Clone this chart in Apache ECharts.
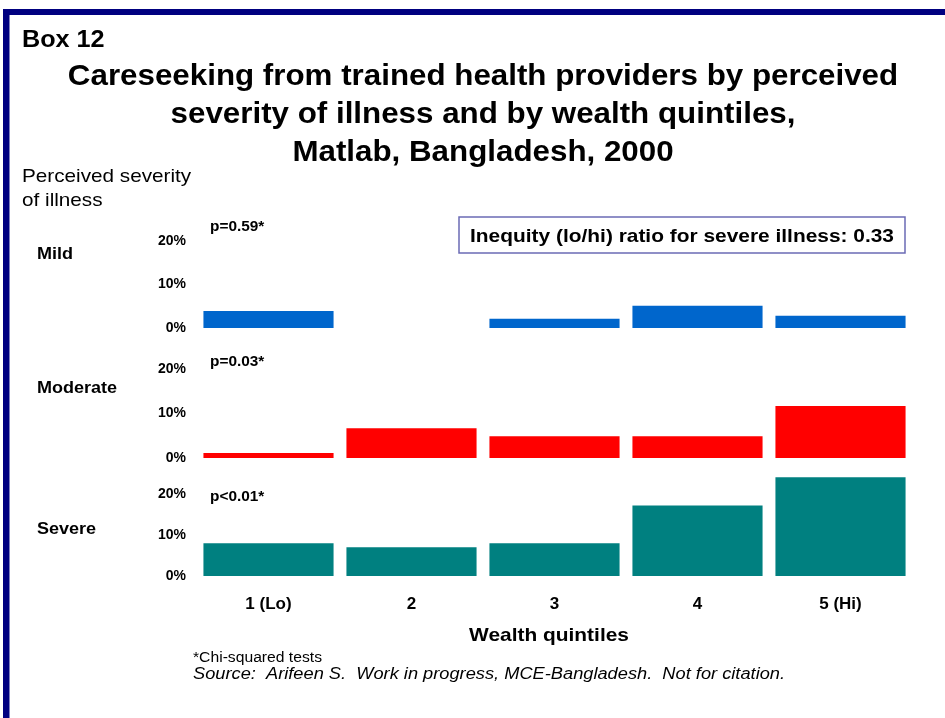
<!DOCTYPE html>
<html>
<head>
<meta charset="utf-8">
<script src="https://cdn.jsdelivr.net/npm/echarts@6/dist/echarts.min.js"></script>
<style>html,body{margin:0;padding:0;background:#fff;}#c{width:945px;height:718px;}</style>
</head>
<body>
<div id="c"></div>
<script>
const categories = ['1 (Lo)', '2', '3', '4', '5 (Hi)'];
const mild = [3.9, 0, 2.1, 5.1, 2.8];
const moderate = [1.1, 6.7, 4.9, 4.9, 11.7];
const severe = [8.0, 7.0, 8.0, 17.2, 24.1];
const rowLabels = ['Mild', 'Moderate', 'Severe'];
const pValues = ['p=0.59*', 'p=0.03*', 'p<0.01*'];
const titleLines = ['Careseeking from trained health providers by perceived', 'severity of illness and by wealth quintiles,', 'Matlab, Bangladesh, 2000'];
const boxNote = 'Inequity (lo/hi) ratio for severe illness: 0.33';

const FONT = '"Liberation Sans", Arial, sans-serif';
const chart = echarts.init(document.getElementById('c'));

const rows = [
  { data: mild, color: '#0066CC', top: 241, height: 87, max: 20, labelY: 254, pY: 227 },
  { data: moderate, color: '#FF0000', top: 369, height: 89, max: 20, labelY: 388, pY: 362 },
  { data: severe, color: '#008080', top: 473.5, height: 102.5, max: 25, labelY: 529, pY: 497 }
];

const grids = rows.map(r => ({ left: 197, right: 33, top: r.top, height: r.height }));
const xAxes = rows.map((r, i) => ({
  type: 'category', gridIndex: i, data: categories,
  show: i === 2,
  axisLine: { show: false }, axisTick: { show: false },
  axisLabel: { show: i === 2, margin: 20, fontFamily: FONT, fontWeight: 'bold', fontSize: 17, color: '#000' }
}));
const yAxes = rows.map((r, i) => ({
  type: 'value', gridIndex: i, min: 0, max: r.max, interval: 10,
  splitLine: { show: false }, axisLine: { show: false }, axisTick: { show: false },
  axisLabel: {
    margin: 11, fontFamily: FONT, fontWeight: 'bold', fontSize: 14, color: '#000',
    formatter: v => (v % 10 === 0 ? v + '%' : '')
  }
}));
const series = rows.map((r, i) => ({
  type: 'bar', xAxisIndex: i, yAxisIndex: i, data: r.data,
  barCategoryGap: '9%', itemStyle: { color: r.color }, silent: true
}));

function txt(x, y, text, font, sx, align, extra) {
  return Object.assign({
    type: 'text', x: x, y: y, scaleX: sx,
    style: Object.assign({ text: text, font: font + ' ' + FONT, fill: '#000', textAlign: align || 'left', textVerticalAlign: 'middle' }, extra || {})
  });
}

const graphic = [
  { type: 'rect', shape: { x: 3, y: 9, width: 942, height: 6 }, style: { fill: '#000080' } },
  { type: 'rect', shape: { x: 3, y: 9, width: 6.5, height: 709 }, style: { fill: '#000080' } },
  txt(22, 40, 'Box 12', 'bold 24px', 1.05),
  { type: 'text', x: 483, y: 58, scaleX: 1.044, style: { text: titleLines.join('\n'), font: 'bold 30px ' + FONT, fill: '#000', textAlign: 'center', lineHeight: 38 } },
  { type: 'text', x: 22, y: 165, scaleX: 1.09, style: { text: 'Perceived severity\nof illness', font: '19px ' + FONT, fill: '#000', lineHeight: 24 } },
  { type: 'rect', shape: { x: 459, y: 217, width: 446, height: 36 }, style: { fill: '#fff', stroke: '#6B6BB5', lineWidth: 1.5 } },
  txt(682, 237, boxNote, 'bold 19px', 1.1, 'center'),
  txt(549, 636, 'Wealth quintiles', 'bold 19px', 1.1, 'center'),
  txt(193, 658, '*Chi-squared tests', '14px', 1.12),
  txt(193, 675, 'Source:  Arifeen S.  Work in progress, MCE-Bangladesh.  Not for citation.', 'italic 16px', 1.14)
];
rows.forEach((r, i) => {
  graphic.push(txt(37, r.labelY, rowLabels[i], 'bold 17px', 1.06));
  graphic.push(txt(210, r.pY, pValues[i], 'bold 14px', 1.1));
});

chart.setOption({
  backgroundColor: '#fff',
  animation: false,
  grid: grids,
  xAxis: xAxes,
  yAxis: yAxes,
  series: series,
  graphic: graphic
});
</script>
</body>
</html>
